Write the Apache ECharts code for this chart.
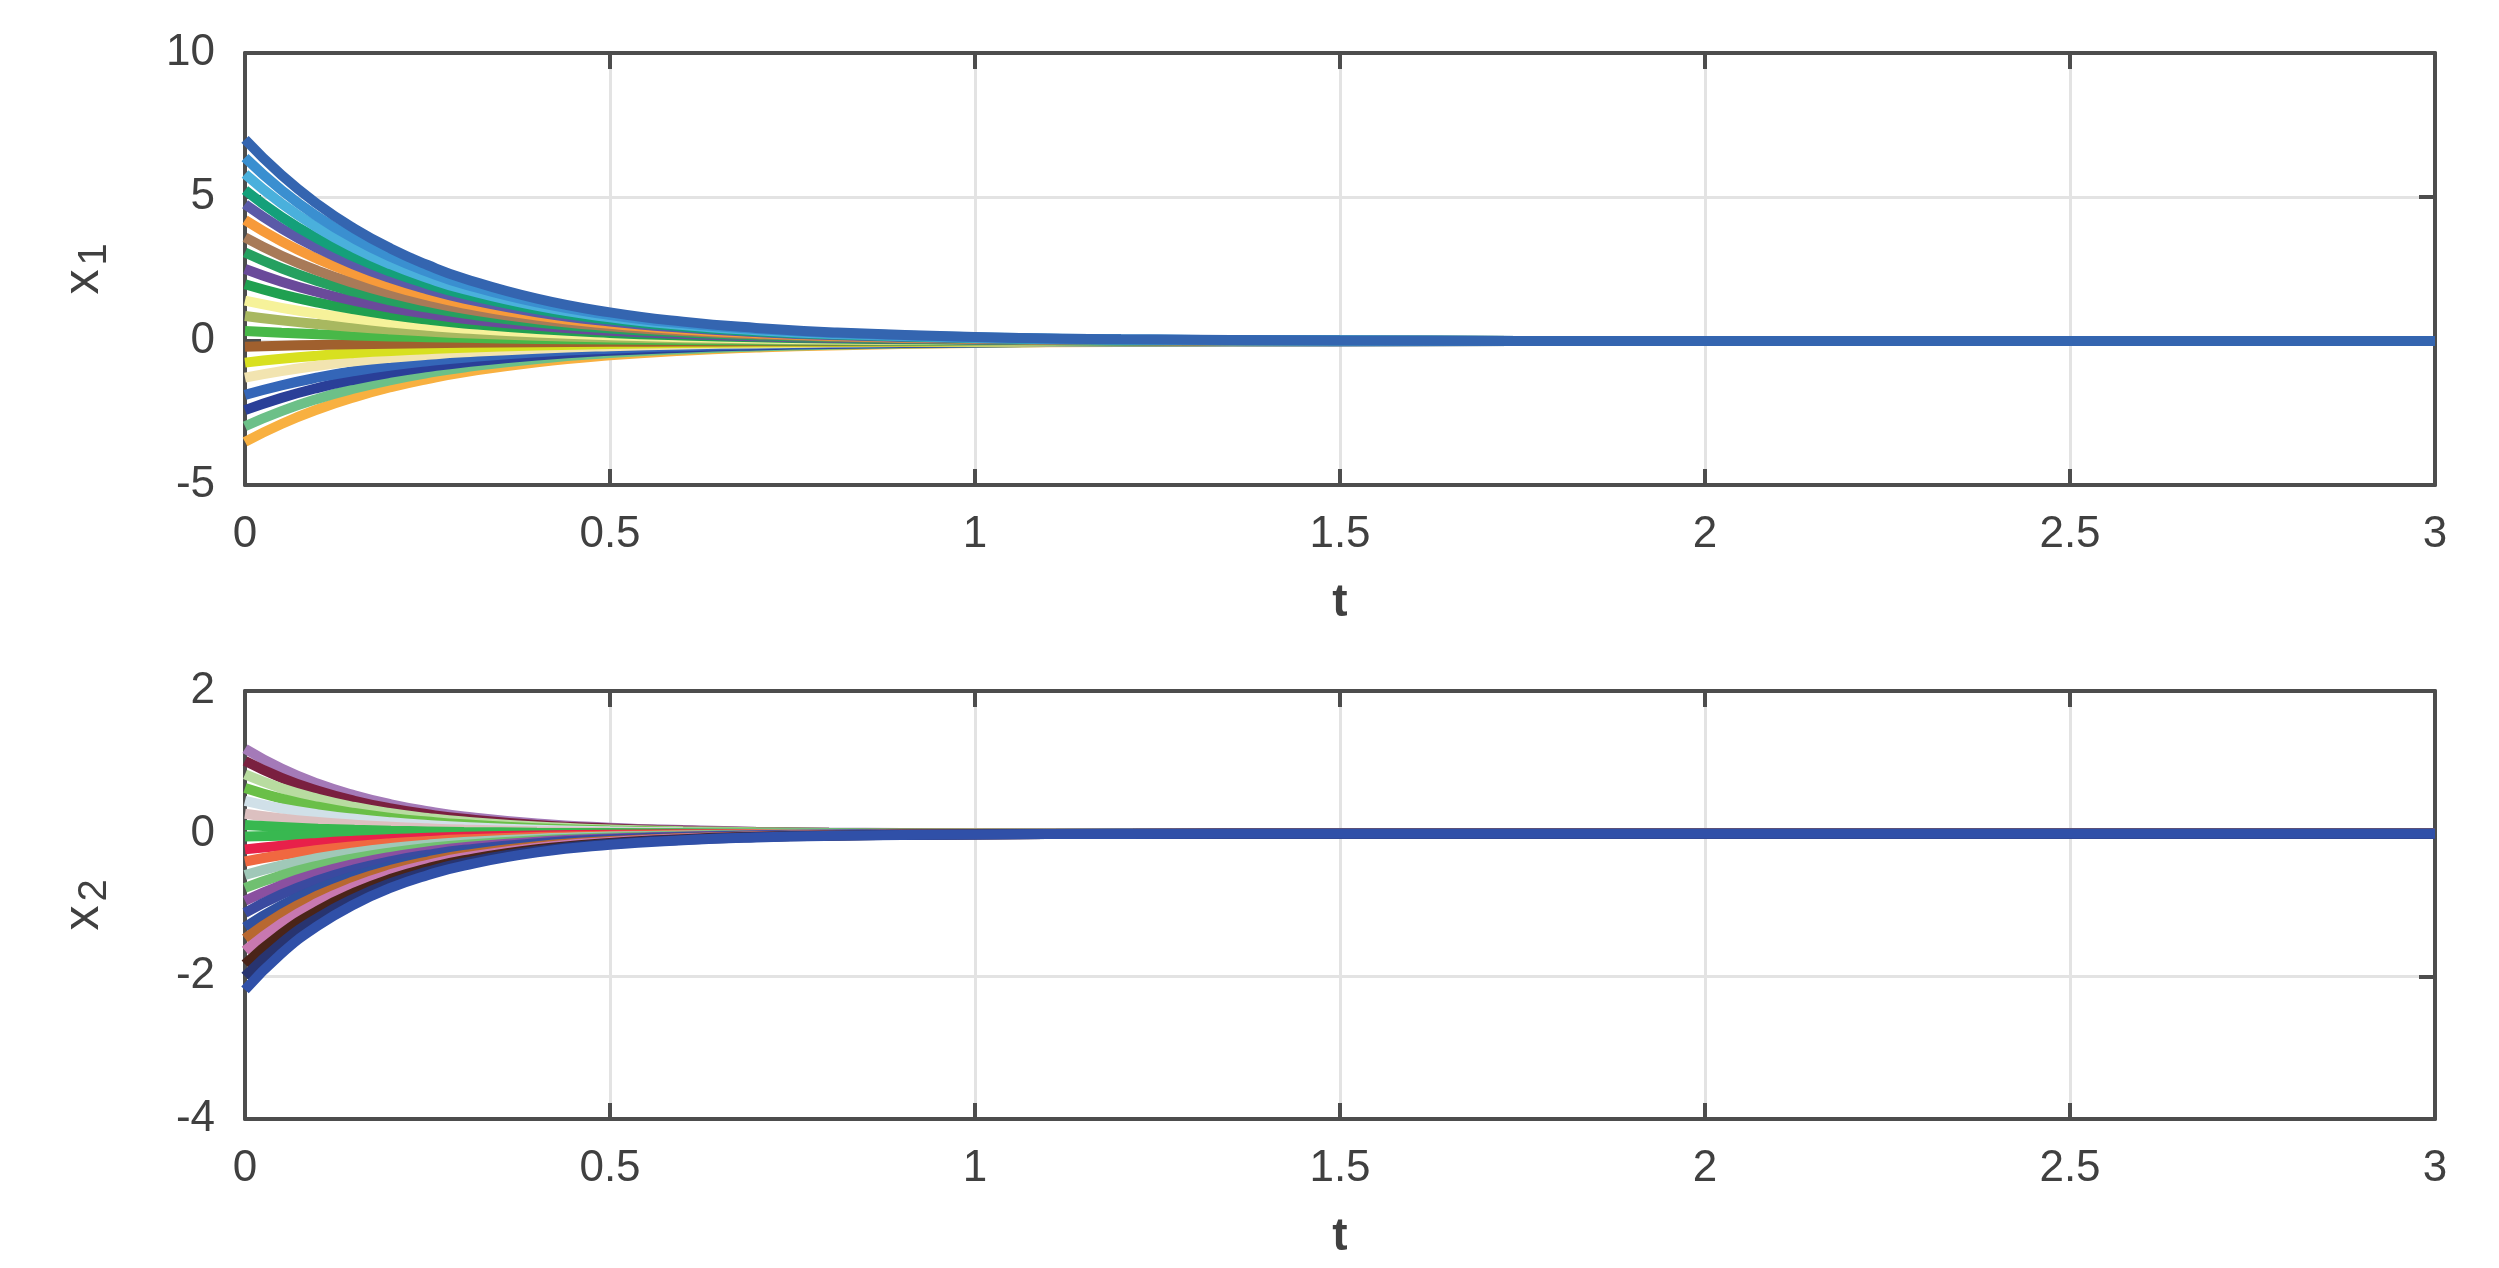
<!DOCTYPE html>
<html><head><meta charset="utf-8">
<script src="https://cdn.jsdelivr.net/npm/echarts@6/dist/echarts.min.js"></script>
<style>html,body{margin:0;padding:0;background:#fff}#c{width:2499px;height:1268px}</style>
</head><body><div id="c"></div>
<script>
var fontFamily='Arial,"Liberation Sans",sans-serif';
// sample times
var times=[0,0.05,0.1,0.15,0.2,0.25,0.3,0.4,0.5,0.6,0.7,0.8,1,1.2,1.5,2,2.5,3];
// fraction of the start value left at each time
var decay1=[1,0.823,0.677,0.557,0.458,0.377,0.310,0.210,0.142,0.096,0.065,0.044,0.020,0.009,0.003,0,0,0];
var decay2=[1,0.767,0.589,0.452,0.346,0.266,0.204,0.120,0.071,0.042,0.024,0.014,0.005,0.002,0,0,0,0];
// start values
var x1Start=[7.0,6.37,5.8,5.24,4.75,4.2,3.6,3.07,2.5,1.97,1.4,0.87,0.35,-0.2,-0.75,-1.27,-1.87,-2.4,-2.96,-3.5];
var x2Start=[1.19,1.02,0.83,0.64,0.46,0.28,0.12,-0.04,-0.22,-0.39,-0.58,-0.76,-0.94,-1.11,-1.31,-1.47,-1.64,-1.83,-2.0,-2.19];
var x1Colors=['#3465b0','#3a8fd0','#4ab0dc','#14a07a','#5a5aa8','#f79a3a','#a87a58','#25a060','#6a4a9a','#20a050','#f6f29a','#a8b860','#48b848','#a0602e','#d8e020','#f2e4b0','#3466b8','#2a3f98','#6cc088','#f8b040'];
var x2Colors=['#a47ab8','#7a2040','#b8dca0','#6abf48','#d0e0e8','#dcc0c0','#38b850','#38b850','#e8204a','#f06840','#a0c8b8','#70c070','#8a50a0','#3a4aa0','#3050a0','#b86830','#c878b0','#4a2418','#283470','#3050a8'];

var txt={color:'#404040',fontSize:44,fontFamily:fontFamily};
var box={onZero:false,lineStyle:{color:'#4d4d4d',width:4}};
var tick={inside:true,length:16,lineStyle:{color:'#4d4d4d',width:4}};
function xAxes(g){
  return [{type:'value',gridIndex:g,min:0,max:3,interval:0.5,name:'t',nameLocation:'middle',nameGap:95,
      nameTextStyle:{color:'#404040',fontSize:46,fontWeight:'bold',fontFamily:fontFamily},
      axisLine:box,axisTick:tick,
      axisLabel:Object.assign({margin:28,formatter:function(v){return String(v);}},txt),
      splitLine:{lineStyle:{color:'#e3e3e3',width:3}}},
    {type:'value',gridIndex:g,position:'top',min:0,max:3,interval:0.5,axisLine:box,
      axisTick:tick,axisLabel:{show:false},splitLine:{show:false}}];
}
function yAxes(g,min,max,step,nm){
  return [{type:'value',gridIndex:g,min:min,max:max,interval:step,name:nm,nameLocation:'middle',nameGap:130,
      nameTextStyle:{color:'#404040',fontSize:50,fontFamily:fontFamily,rich:{s:{fontSize:40,color:'#404040',padding:[22,0,0,4]}}},
      axisLine:box,axisTick:tick,
      axisLabel:Object.assign({margin:30},txt),splitLine:{lineStyle:{color:'#e3e3e3',width:3}}},
    {type:'value',gridIndex:g,position:'right',min:min,max:max,interval:step,axisLine:box,
      axisTick:tick,axisLabel:{show:false},splitLine:{show:false}}];
}
var series=[];
function addSeries(starts,decay,colors,g,reverse){
  for(var k=0;k<starts.length;k++){
    var i=reverse?starts.length-1-k:k;
    var d=[];
    for(var j=0;j<times.length;j++) d.push([times[j],starts[i]*decay[j]]);
    series.push({type:'line',xAxisIndex:g*2,yAxisIndex:g*2,data:d,smooth:true,showSymbol:false,
      lineStyle:{color:colors[i],width:10},itemStyle:{color:colors[i]},z:3});
  }
}
addSeries(x1Start,decay1,x1Colors,0,true);
addSeries(x2Start,decay2,x2Colors,1,false);

var chart=echarts.init(document.getElementById('c'));
chart.setOption({
  animation:false,
  backgroundColor:'#fff',
  grid:[{left:245,right:64,top:53,height:432},{left:245,right:64,top:691,height:428}],
  xAxis:xAxes(0).concat(xAxes(1)),
  yAxis:yAxes(0,-5,10,5,'x{s|1}').concat(yAxes(1,-4,2,2,'x{s|2}')),
  series:series
});
</script></body></html>
